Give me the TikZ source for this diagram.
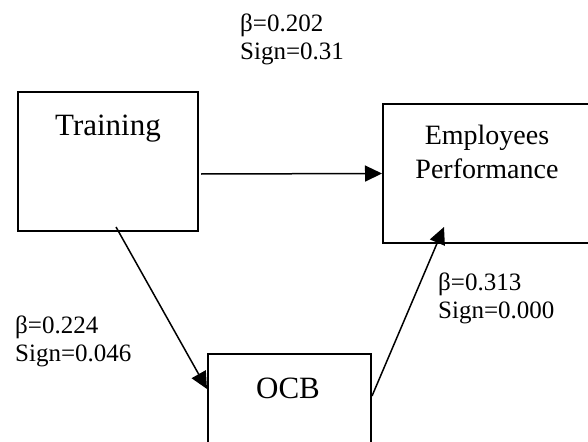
\documentclass[tikz,border=0pt]{standalone}
\usepackage{fontspec}
\setmainfont{Liberation Serif}
\usetikzlibrary{arrows.meta,calc}
\begin{document}
\begin{tikzpicture}[x=1pt,y=-1pt,
  box/.style={draw,line width=2pt,inner sep=0pt},
  arr/.style={line width=1.5pt,-{Triangle[length=17pt,width=16pt]}},
  lbl/.style={font=\fontsize{25}{28}\selectfont,align=left,anchor=base west,inner sep=0pt},
  big/.style={font=\fontsize{31}{34}\selectfont,inner sep=0pt,anchor=base},
  mid/.style={font=\fontsize{28}{34}\selectfont,inner sep=0pt,align=center,anchor=base}]
\clip (0,0) rectangle (588,441);
\fill[white] (0,0) rectangle (588,441);
\node[box,minimum width=180pt,minimum height=139pt] (train) at (108,161.5) {};
\node[big] (traint) at (108,135) {Training};
\node[box,minimum width=208pt,minimum height=139pt] (emp) at (487,173.5) {};
\node[mid] (empt) at (487,178) {Employees\\Performance};
\node[box,minimum width=163pt,minimum height=200pt] (ocb) at (289.5,454) {};
\node[big] (ocbt) at (288,398) {OCB};
\coordinate (t3) at (444,227);
\draw[arr] ($(train.east)+(2,12.5)$) -- (emp.west);
\draw[arr] ($(train.south)+(8,-5)$) -- ($(ocb.north west)+(0,36)$);
\draw[arr] ($(ocb.north east)+(0,43)$) -- (t3);
\node[lbl] (l1) at (240,60) {β=0.202\\Sign=0.31};
\node[lbl] (l2) at (15,361) {β=0.224\\Sign=0.046};
\node[lbl] (l3) at (438,318) {β=0.313\\Sign=0.000};
\end{tikzpicture}
\end{document}
